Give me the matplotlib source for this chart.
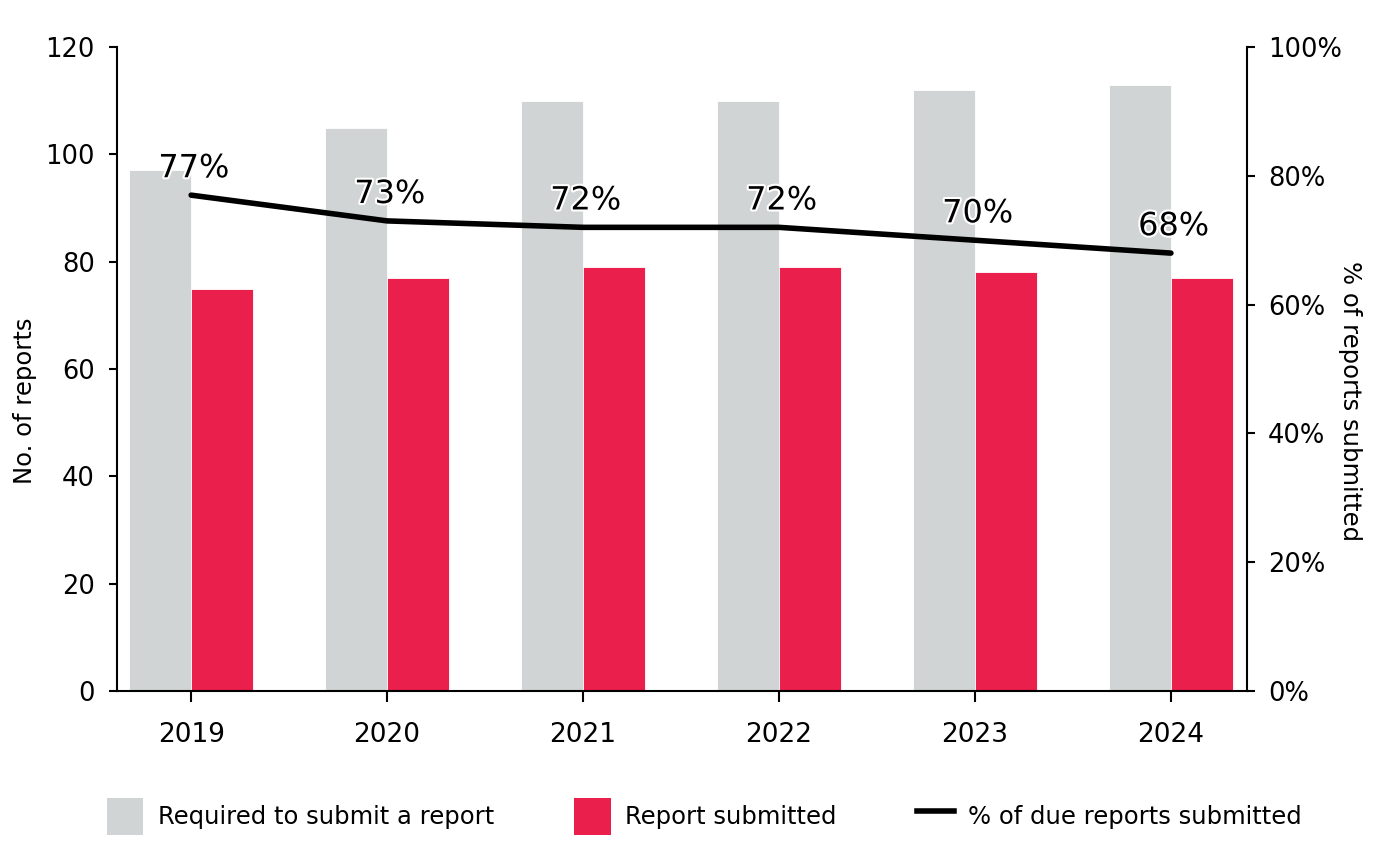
import numpy as np
import matplotlib.pyplot as plt
import matplotlib.patheffects as pe
from matplotlib.patches import Patch
from matplotlib.lines import Line2D

plt.rcParams["font.family"] = ["DejaVu Sans"]

years = ["2019", "2020", "2021", "2022", "2023", "2024"]
required = [97, 105, 110, 110, 112, 113]
submitted = [75, 77, 79, 79, 78, 77]
pct_submitted = [77, 73, 72, 72, 70, 68]

GREY = "#D1D4D5"
RED = "#EA1F4B"

fig = plt.figure(figsize=(13.92, 8.63), dpi=100)
ax = fig.add_axes([0.0841, 0.1993, 0.8117, 0.7462])
ax2 = ax.twinx()

x = np.arange(len(years))
w = 0.316
ax.bar(x - w, required, width=w, align="edge", color=GREY,
       edgecolor="white", linewidth=0.6, zorder=2)
ax.bar(x, submitted, width=w, align="edge", color=RED,
       edgecolor="white", linewidth=0.6, zorder=2)

ax.set_xlim(-0.378, 5.388)
ax.set_ylim(0, 120)
ax.set_yticks(range(0, 121, 20))
ax.set_xticks(x)
ax.set_xticklabels(years)
ax.set_ylabel("No. of reports", fontsize=17.5)
ax.yaxis.set_label_coords(-0.071, 0.45)

ax2.set_ylim(0, 100)
ax2.set_yticks(range(0, 101, 20))
ax2.set_yticklabels([f"{v}%" for v in range(0, 101, 20)])
ax2.set_ylabel("% of reports submitted", fontsize=17.5, rotation=270,
               va="center")
ax2.yaxis.set_label_coords(1.091, 0.45)

ax2.plot(x, pct_submitted, color="black", linewidth=4,
         solid_capstyle="round", zorder=3)
for xi, p in zip(x, pct_submitted):
    ax2.annotate(f"{p}%", xy=(xi, p), xytext=(2, 19), textcoords="offset points",
                 ha="center", va="center", fontsize=23, zorder=4,
                 path_effects=[pe.withStroke(linewidth=3, foreground="white")])

for a in (ax, ax2):
    a.spines["top"].set_visible(False)
    for s in a.spines.values():
        s.set_linewidth(1.5)
ax2.spines["left"].set_visible(False)
ax2.spines["bottom"].set_visible(False)
ax.spines["right"].set_visible(False)

ax.tick_params(axis="y", length=6, width=1.5, labelsize=18.5, pad=10)
ax.tick_params(axis="x", length=8, width=1.5, labelsize=19, pad=14)
ax2.tick_params(axis="y", length=6, width=1.5, labelsize=18.5, pad=9)

handles = [Patch(facecolor=GREY, label="Required to submit a report"),
           Patch(facecolor=RED, label="Report submitted"),
           Line2D([], [], color="black", linewidth=4,
                  label="% of due reports submitted")]
fig.legend(handles=handles, loc="center", bbox_to_anchor=(0.506, 0.054), ncol=3,
           frameon=False, fontsize=17.5, handlelength=1.5, handleheight=2.0,
           handletextpad=0.6, columnspacing=3.3)

plt.savefig("out.png", dpi=100)
